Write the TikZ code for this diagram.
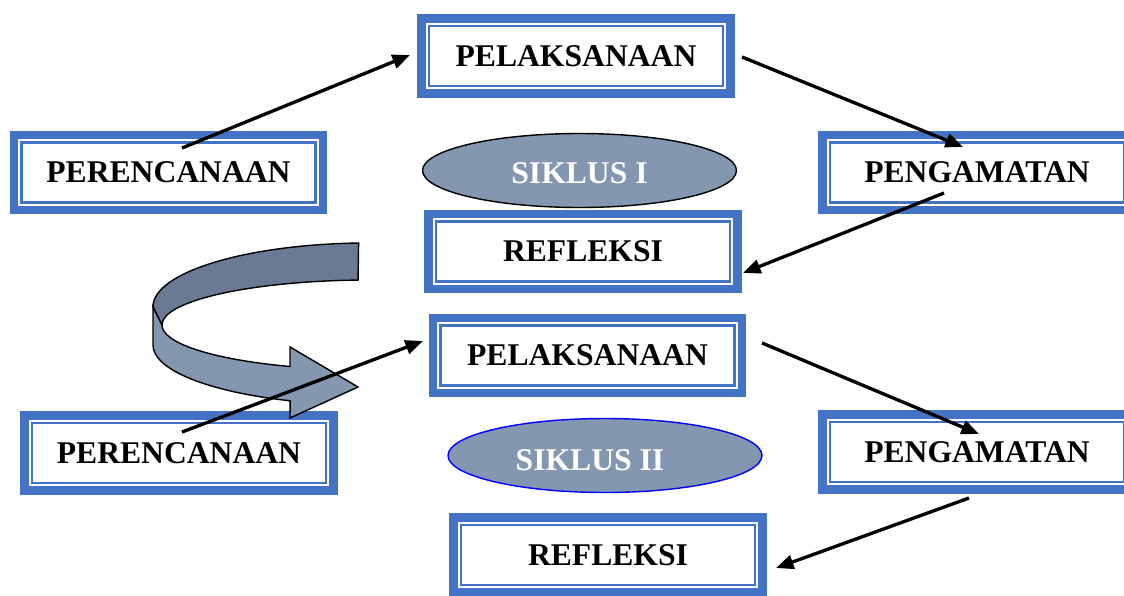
\documentclass[tikz,border=0pt]{standalone}
\usepackage{fontspec}
\setmainfont{Liberation Serif}
\usetikzlibrary{shapes.geometric,arrows.meta}
\definecolor{biru}{HTML}{4472C4}
\definecolor{abu}{HTML}{8497B0}
\definecolor{abutua}{HTML}{6A7A94}
\begin{document}
\begin{tikzpicture}
          [x=0.02cm,y=-0.02cm,
           kotak/.style={rectangle, draw=biru, line width=5pt, fill=white, inner sep=0pt,
             minimum width=6.18cm, minimum height=1.5cm, font=\fontsize{18}{20}\selectfont\bfseries,
             path picture={\draw[biru, line width=1.4pt]
               ([shift={(4.3pt,-4.3pt)}]path picture bounding box.north west) rectangle
               ([shift={(-4.3pt,4.3pt)}]path picture bounding box.south east);}},
           elips/.style={ellipse, draw=black, line width=0.8pt, fill=abu, text=white, inner sep=0pt,
             minimum width=6.28cm, minimum height=1.48cm, font=\fontsize{18}{20}\selectfont\bfseries},
           panah/.style={-{Triangle[length=10pt,width=8pt]}, line width=1.9pt}]
        \useasboundingbox (0,0) rectangle (1124,595);

        \node[kotak] (pel1) at (576,56) {PELAKSANAAN};
        \node[kotak] (per1) at (168.5,172.5) {PERENCANAAN};
        \node[elips] (sik1) at (579.5,170.5) {\raisebox{-1.5pt}[\height][\depth]{SIKLUS I}};
        \node[kotak] (pen1) at (977,172.5) {PENGAMATAN};
        \node[kotak] (ref1) at (583,251.5) {REFLEKSI};
        \node[kotak] (pel2) at (587.5,355.5) {PELAKSANAAN};
        \node[kotak] (per2) at (179,453) {PERENCANAAN};
        \node[elips, draw=blue] (sik2) at (605,455.5) {\hspace*{-0.6cm}\raisebox{-2.5pt}[\height][\depth]{SIKLUS II}};
        \node[kotak] (pen2) at (977,452) {PENGAMATAN};
        \node[kotak] (ref2) at (608,555) {REFLEKSI};

        % panah lengkung ke siklus II
        \filldraw[fill=abutua, draw=black, line width=0.8pt]
          (358.6,243) arc[start angle=267, end angle=180, x radius=217, y radius=64]
          -- (162,325) arc[start angle=180, end angle=266.7, x radius=208, y radius=45] -- cycle;
        \filldraw[fill=abu, draw=black, line width=0.8pt]
          (153,307) -- (153,345) arc[start angle=180, end angle=111.6, x radius=217, y radius=60]
          -- (290,418) -- (358,387) -- (290,347) -- (290,366.5)
          arc[start angle=112.6, end angle=180, x radius=208, y radius=45] -- cycle;

        \coordinate (a1) at (182,148);  \coordinate (b1) at (410,55);
        \coordinate (a2) at (742,57);   \coordinate (b2) at (963,147);
        \coordinate (a3) at (944,193);  \coordinate (b3) at (743,273);
        \coordinate (a4) at (182,432);  \coordinate (b4) at (423,341);
        \coordinate (a5) at (762,343);  \coordinate (b5) at (979,434);
        \coordinate (a6) at (969,498);  \coordinate (b6) at (776,568);

        \foreach \from/\to in {a1/b1, a2/b2, a3/b3, a4/b4, a5/b5, a6/b6}
          \draw[panah] (\from) -- (\to);
      \end{tikzpicture}
\end{document}
